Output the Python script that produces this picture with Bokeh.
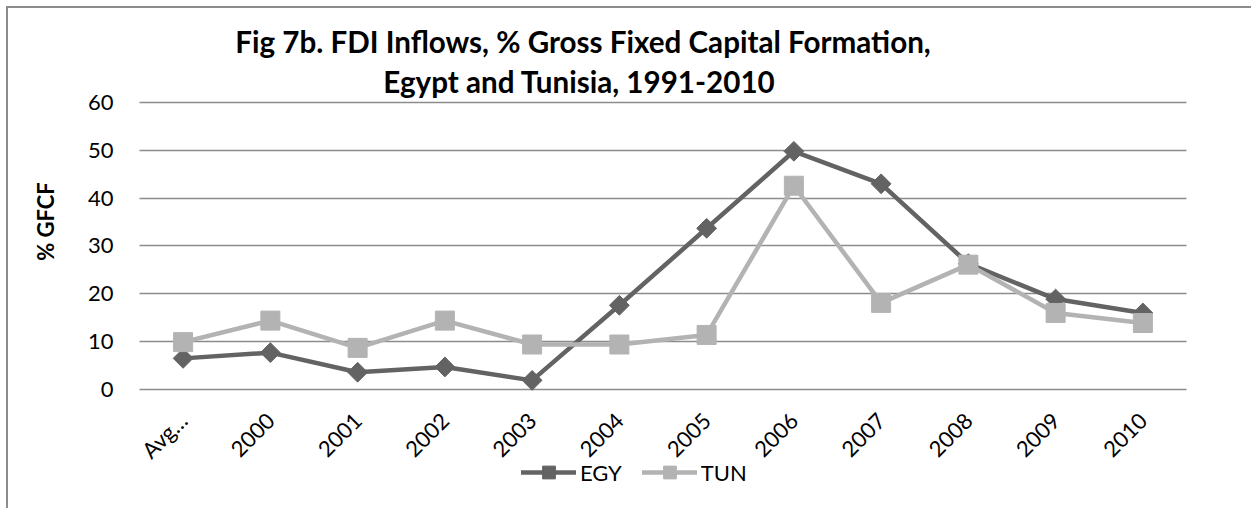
from math import pi
from bokeh.plotting import figure
from bokeh.models import (ColumnDataSource, Range1d, FixedTicker, Label, Legend, LegendItem)
from bokeh.embed import file_html
from bokeh.resources import INLINE

# ---- data ----
categories = ["Avg…", "2000", "2001", "2002", "2003", "2004", "2005",
              "2006", "2007", "2008", "2009", "2010"]
egy = [6.5, 7.7, 3.6, 4.7, 1.9, 17.6, 33.7, 49.8, 43.0, 26.3, 18.9, 16.0]
tun = [9.9, 14.4, 8.7, 14.4, 9.4, 9.4, 11.4, 42.6, 18.1, 26.1, 16.0, 13.9]
y_ticks = [0, 10, 20, 30, 40, 50, 60]
series_names = ["EGY", "TUN"]
title_lines = ["Fig 7b. FDI Inflows, % Gross Fixed Capital Formation,",
               "Egypt and Tunisia, 1991-2010"]
y_title = "% GFCF"

FONT = "Lato"
EGY_C = "#636363"
TUN_C = "#b3b3b3"
GRID_C = "#8c8c8c"

n = len(categories)
xpos = [i + 0.5 for i in range(n)]          # category centres on the axis
src = ColumnDataSource(data=dict(x=xpos, egy=egy, tun=tun))

# the whole canvas is the frame; the axes are pinned inside it
p = figure(width=1245, height=502, output_backend="svg", toolbar_location=None,
           x_range=Range1d(-1.5014, 12.768), y_range=Range1d(-25.31, 79.66),
           min_border_left=0, min_border_right=0, min_border_top=0, min_border_bottom=0)
p.styles = {"margin-left": "6px", "margin-top": "6px",
            "border-top": "2px solid #8c8c8c", "border-left": "2px solid #8c8c8c"}
p.outline_line_color = None
p.background_fill_color = "white"
p.border_fill_color = "white"

p.xaxis.ticker = FixedTicker(ticks=xpos)
p.xaxis.major_label_overrides = {x: c for x, c in zip(xpos, categories)}
p.xaxis.fixed_location = 0
p.yaxis.ticker = FixedTicker(ticks=y_ticks)
p.yaxis.fixed_location = 0

# grid
p.xgrid.grid_line_color = None
p.ygrid.grid_line_color = GRID_C
p.ygrid.grid_line_width = 1.5
p.ygrid.cross_bounds = (0, n)

# axes
for ax in (p.xaxis, p.yaxis):
    ax.axis_line_color = None
    ax.major_tick_line_color = None
    ax.minor_tick_line_color = None
    ax.major_tick_out = 0
    ax.major_label_text_font = FONT
    ax.major_label_text_font_size = "22px"
    ax.major_label_text_color = "#000000"
p.yaxis.major_label_standoff = 26
p.xaxis.major_label_standoff = 27
p.xaxis.major_label_orientation = pi / 4

# series
l1 = p.line("x", "egy", source=src, line_color=EGY_C, line_width=4.5,
            line_join="round", line_cap="round")
m1 = p.scatter("x", "egy", source=src, marker="square", angle=pi / 4, size=14,
               fill_color=EGY_C, line_color=EGY_C)
l2 = p.line("x", "tun", source=src, line_color=TUN_C, line_width=4.5,
            line_join="round", line_cap="round")
m2 = p.scatter("x", "tun", source=src, marker="square", size=19,
               fill_color=TUN_C, line_color=TUN_C)

legend = Legend(items=[LegendItem(label=series_names[0], renderers=[l1, m1]),
                       LegendItem(label=series_names[1], renderers=[l2, m2])],
                orientation="horizontal", location=(513, 22),
                glyph_width=55, glyph_height=32, label_standoff=4, spacing=20,
                padding=0, margin=0, border_line_color=None,
                background_fill_alpha=0,
                label_text_font=FONT, label_text_font_size="22px",
                label_text_color="#000000")
p.add_layout(legend, "center")

# titles
p.add_layout(Label(x=5.083, y=72.76, text=title_lines[0], text_align="center",
                   text_baseline="alphabetic", text_font=FONT, text_font_style="bold",
                   text_font_size="29.6px", text_color="#000000"))
p.add_layout(Label(x=5.043, y=64.39, text=title_lines[1], text_align="center",
                   text_baseline="alphabetic", text_font=FONT, text_font_style="bold",
                   text_font_size="29.6px", text_color="#000000"))
p.add_layout(Label(x=-1.077, y=35.12, text=y_title, angle=pi / 2, text_align="center",
                   text_baseline="middle", text_font=FONT, text_font_style="bold",
                   text_font_size="22px", text_color="#000000"))

open("out.html", "w").write(file_html(p, INLINE))
